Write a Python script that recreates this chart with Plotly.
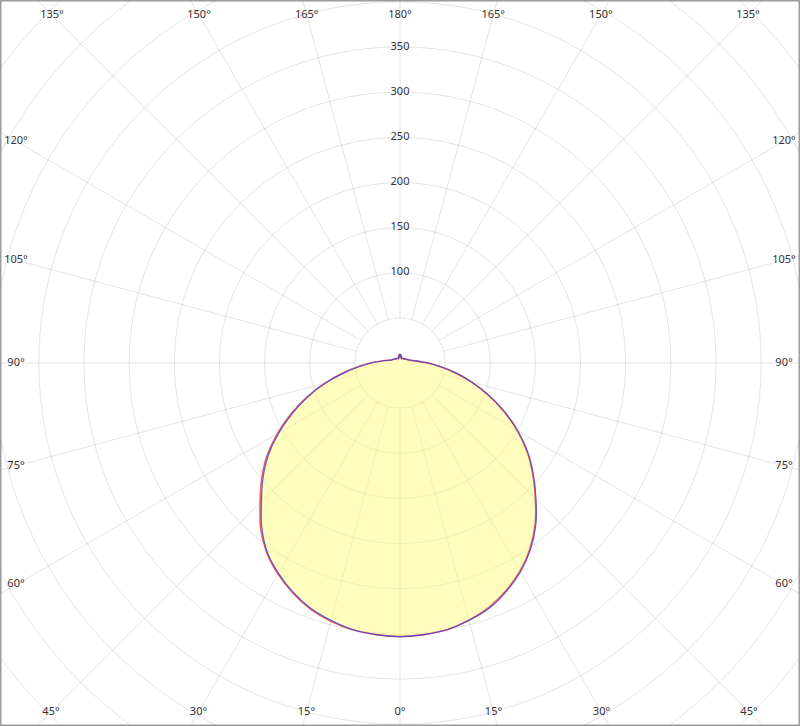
import numpy as np
import plotly.graph_objects as go

# ---------------- data (luminous intensity, cd) ----------------
gamma = [0, 5, 10, 15, 20, 25, 30, 35, 40, 45, 50, 55, 60, 65, 70, 75, 80, 85, 90,
         95, 100, 105, 110, 115, 120, 125, 130, 135, 140, 145, 150, 155, 160, 165, 170, 175, 180]
# C0-C180 plane (red): right half C0, left half C180
c0 = [303, 302, 300, 295, 288, 278, 266, 251, 233, 212, 192, 172, 150, 127, 104, 82, 62, 44, 31,
      21, 15, 12, 10, 9, 8, 8, 7, 7, 6, 6, 6, 6, 5, 6, 7, 9, 6]
c180 = [303, 302, 300, 296, 290, 281, 270, 257, 240, 219, 200, 180, 157, 133, 109, 86, 64, 46, 33,
        22, 16, 12, 10, 9, 8, 8, 7, 7, 6, 6, 6, 6, 5, 6, 8, 10, 7]
# C90-C270 plane (blue): right half C90, left half C270
c90 = [303, 302, 300, 295, 289, 279, 267, 252, 234, 213, 193, 173, 151, 128, 105, 83, 63, 45, 31,
       21, 15, 12, 10, 9, 8, 8, 7, 7, 6, 6, 6, 6, 5, 6, 8, 10, 7]
c270 = [303, 302, 300, 295, 289, 280, 269, 256, 238, 217, 198, 178, 155, 131, 108, 85, 63, 45, 32,
        22, 16, 12, 10, 9, 8, 8, 7, 7, 6, 6, 6, 6, 5, 6, 7, 9, 6]

radial_ticks = [100, 150, 200, 250, 300, 350]
grid_circles = [50, 100, 150, 200, 250, 300, 350, 400, 450, 500, 550, 600, 650, 700]
spoke_step = 15
angle_ticks = [0, 15, 30, 45, 60, 75, 90, 105, 120, 135, 150, 165, 180]

R_MAX = 402          # radial value at the edge of the polar area
HOLE = 50            # grid starts at this radius
R_OUT = 900          # spokes run out past the frame

W, H = 800, 726
CX, CY = W / 2, H / 2
SCALE = (min(W, H) / 2) / R_MAX   # px per cd
XR = CX / SCALE                    # cartesian half-range matching the polar scale
YR = CY / SCALE

GRID = "rgba(0,0,0,0.11)"
TXT = "#333333"
FONT = "Noto Sans"


def half_planes(right, left):
    th = [-g for g in gamma[::-1]] + gamma[1:]
    rr = left[::-1] + right[1:]
    return th, rr


fig = go.Figure()

# ---------- grid (cartesian overlay with the same scale, clipped by the frame) ----------
shapes = []
for rc in grid_circles:
    shapes.append(dict(type="circle", xref="x", yref="y", x0=-rc, y0=-rc, x1=rc, y1=rc,
                       line=dict(color=GRID, width=1), layer="below"))
for a in range(0, 360, spoke_step):
    ar = np.radians(a)
    shapes.append(dict(type="line", xref="x", yref="y",
                       x0=HOLE * np.sin(ar), y0=HOLE * np.cos(ar),
                       x1=R_OUT * np.sin(ar), y1=R_OUT * np.cos(ar),
                       line=dict(color=GRID, width=1), layer="below"))
shapes.append(dict(type="rect", xref="paper", yref="paper", x0=0, y0=0, x1=1, y1=1,
                   line=dict(color="#9c9c9c", width=3), layer="above"))

# angular labels at the frame edges
lab_x, lab_y, lab_t = [], [], []
for g in angle_ticks:
    sides = [1] if g in (0, 180) else [1, -1]
    for s in sides:
        gr = np.radians(g)
        dx = s * np.sin(gr)
        dy = -np.cos(gr)          # 0 deg points down
        lim = []
        if dy < -1e-9:
            lim.append((CY - 14) / -dy)
        elif dy > 1e-9:
            lim.append((CY - 15) / dy)
        if abs(dx) > 1e-9:
            lim.append((CX - 16) / abs(dx))
        t = min(lim) / SCALE
        lab_x.append(t * dx)
        lab_y.append(t * dy)
        lab_t.append(f"{g}°")
fig.add_trace(go.Scatter(x=lab_x, y=lab_y, mode="text", text=lab_t,
                         textposition="middle center",
                         textfont=dict(family=FONT, size=11, color=TXT),
                         hoverinfo="skip", showlegend=False, cliponaxis=False))

# ---------- polar data ----------
th_f, r_f = half_planes(c0, c180)
fig.add_trace(go.Scatterpolar(theta=th_f, r=r_f, mode="lines", fill="toself",
                              fillcolor="rgba(255,251,125,0.5)",
                              line=dict(width=0, shape="spline", smoothing=0.8),
                              hoverinfo="skip", showlegend=False))
th_r, r_r = half_planes(c0, c180)
fig.add_trace(go.Scatterpolar(theta=th_r, r=r_r, mode="lines", name="C0-C180",
                              line=dict(color="rgb(235,95,95)", width=1.6,
                                        shape="spline", smoothing=0.8),
                              showlegend=False))
th_b, r_b = half_planes(c90, c270)
fig.add_trace(go.Scatterpolar(theta=th_b, r=r_b, mode="lines", name="C90-C270",
                              line=dict(color="rgba(70,70,215,0.85)", width=1.2,
                                        shape="spline", smoothing=0.8),
                              showlegend=False))

# radial tick labels along the upward axis
fig.add_trace(go.Scatterpolar(theta=[180] * len(radial_ticks), r=radial_ticks, mode="text",
                              text=[str(v) for v in radial_ticks], textposition="middle center",
                              textfont=dict(family=FONT, size=11, color=TXT),
                              hoverinfo="skip", showlegend=False))

fig.update_layout(
    width=W, height=H,
    margin=dict(l=0, r=0, t=0, b=0),
    paper_bgcolor="white",
    plot_bgcolor="white",
    showlegend=False,
    xaxis=dict(domain=[0, 1], range=[-XR, XR], visible=False, fixedrange=True),
    yaxis=dict(domain=[0, 1], range=[-YR, YR], visible=False, fixedrange=True),
    polar=dict(
        domain=dict(x=[0, 1], y=[0, 1]),
        bgcolor="rgba(0,0,0,0)",
        radialaxis=dict(range=[0, R_MAX], showgrid=False, showline=False,
                        showticklabels=False, ticks=""),
        angularaxis=dict(rotation=-90, direction="counterclockwise", showgrid=False,
                         showline=False, showticklabels=False, ticks=""),
    ),
    shapes=shapes,
)

fig.write_html("out.html", config={"displayModeBar": False},
               post_script="document.body.style.margin='0';")
